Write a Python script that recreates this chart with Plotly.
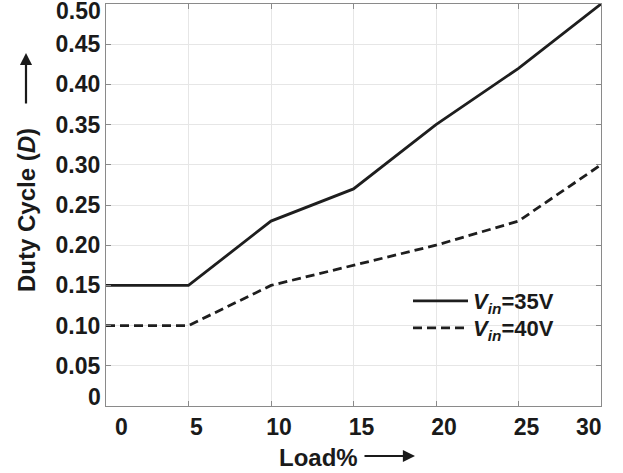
import plotly.graph_objects as go

load = [0, 5, 10, 15, 20, 25, 30]
d_35 = [0.15, 0.15, 0.23, 0.27, 0.35, 0.42, 0.50]
d_40 = [0.10, 0.10, 0.15, 0.175, 0.20, 0.23, 0.30]
x_ticks = [0, 5, 10, 15, 20, 25, 30]
x_tick_labels = ["0", "5", "10", "15", "20", "25", "30"]
y_ticks = [0, 0.05, 0.10, 0.15, 0.20, 0.25, 0.30, 0.35, 0.40, 0.45, 0.50]
y_tick_labels = ["0", "0.05", "0.10", "0.15", "0.20", "0.25", "0.30", "0.35", "0.40", "0.45", "0.50"]

FONT = "Arial, Liberation Sans, sans-serif"
TXT = "#1a1a1a"
tick_font = dict(family=FONT, size=23, color=TXT, weight="bold")

fig = go.Figure()
fig.add_trace(go.Scatter(x=load, y=d_35, mode="lines", name="<i>V<sub>in</sub></i>=35V",
                         legend="legend", line=dict(color="#1e1e1e", width=2.8)))
fig.add_trace(go.Scatter(x=load, y=d_40, mode="lines", name="<i>V<sub>in</sub></i>=40V",
                         legend="legend2", line=dict(color="#1e1e1e", width=2.8, dash="9px,5px")))

axis_common = dict(showline=True, linecolor="#8a8a8a", linewidth=1.2, mirror="ticks",
                   ticks="inside", ticklen=5, tickcolor="#8a8a8a",
                   showgrid=True, gridcolor="#e6e6e6", gridwidth=1, zeroline=False,
                   automargin=False, ticklabeloverflow="allow",
                   tickfont=tick_font)

# end labels are drawn as annotations (shifted inward like the reference)
fig.update_xaxes(range=[0, 30], tickvals=x_ticks,
                 ticktext=[""] + x_tick_labels[1:-1] + [""], ticklabelshift=8, **axis_common)
fig.update_yaxes(range=[0, 0.5], tickvals=y_ticks,
                 ticktext=[""] + y_tick_labels[1:-1] + [""], **axis_common)

W, H = 623, 473
L, R, T, B = 106, 22, 4, 67
pw, ph = W - L - R, H - T - B

def px(x):
    return (x - L) / pw

def py(y):
    return (H - B - y) / ph

title_font = dict(family=FONT, size=24, color=TXT, weight="bold")

annotations = [
    # shifted end tick labels
    dict(text=x_tick_labels[0], x=x_ticks[0], y=0, xref="x", yref="paper",
         xanchor="center", yanchor="top", xshift=15, yshift=-6, showarrow=False, font=tick_font),
    dict(text=x_tick_labels[-1], x=x_ticks[-1], y=0, xref="x", yref="paper",
         xanchor="right", yanchor="top", xshift=3, yshift=-6, showarrow=False, font=tick_font),
    dict(text=y_tick_labels[-1], x=0, y=y_ticks[-1], xref="paper", yref="y",
         xanchor="right", yanchor="top", xshift=-3, yshift=8, showarrow=False, font=tick_font),
    dict(text=y_tick_labels[0], x=0, y=y_ticks[0], xref="paper", yref="y",
         xanchor="right", yanchor="bottom", xshift=-3, yshift=-6, showarrow=False, font=tick_font),
    # axis titles and arrows
    dict(text="Duty Cycle (<i>D</i>)", x=px(26), y=py(210), xref="paper", yref="paper",
         xanchor="center", yanchor="middle",
         showarrow=False, textangle=-90, font=title_font),
    dict(text="", x=px(26), y=py(53), xref="paper", yref="paper",
         showarrow=True, ax=0, ay=52, arrowhead=2, arrowsize=1.1, arrowwidth=2.2, arrowcolor=TXT),
    dict(text="Load%", x=px(318), y=py(457), xref="paper", yref="paper",
         xanchor="center", yanchor="middle",
         showarrow=False, font=title_font),
    dict(text="", x=px(415), y=py(456), xref="paper", yref="paper",
         showarrow=True, ax=-52, ay=0, arrowhead=2, arrowsize=1.1, arrowwidth=2.2, arrowcolor=TXT),
]

legend_common = dict(xanchor="left", yanchor="top", bgcolor="rgba(0,0,0,0)", borderwidth=0,
                     itemwidth=55, font=dict(family=FONT, size=22, color=TXT, weight="bold"))

fig.update_layout(
    width=W, height=H,
    margin=dict(l=L, r=R, t=T, b=B),
    paper_bgcolor="white", plot_bgcolor="white",
    showlegend=True,
    legend=dict(x=px(408), y=py(280), **legend_common),
    legend2=dict(x=px(408), y=py(307), **legend_common),
    annotations=annotations,
)

fig.write_html("out.html", config={"displayModeBar": False},
               post_script="document.body.style.margin='0';document.body.style.overflow='hidden';")
